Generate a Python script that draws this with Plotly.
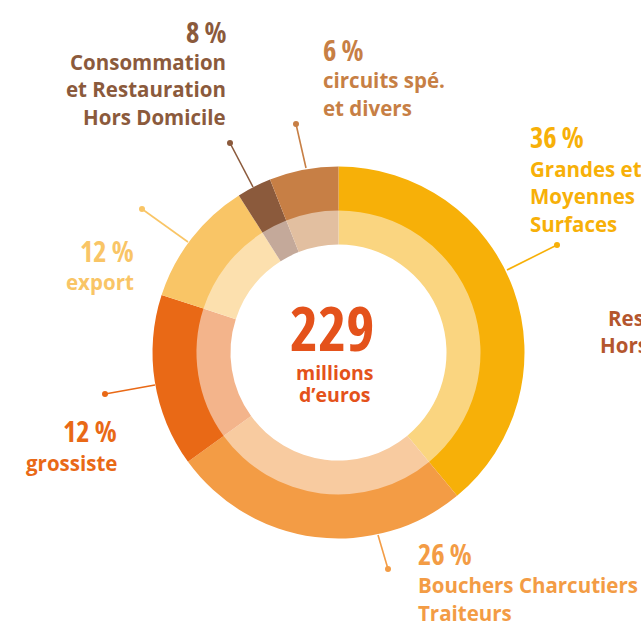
import plotly.graph_objects as go

W, H = 641, 623

# ---- data ----
categories = ["Grandes et Moyennes Surfaces", "Bouchers Charcutiers Traiteurs",
              "grossiste", "export",
              "Consommation et Restauration Hors Domicile", "circuits spé. et divers"]
slice_values = [39, 26, 15, 11, 3, 6]          # slice sizes as drawn
pct_labels = ["36 %", "26 %", "12 %", "12 %", "8 %", "6 %"]
label_lines = [["Grandes et", "Moyennes", "Surfaces"],
               ["Bouchers Charcutiers", "Traiteurs"],
               ["grossiste"],
               ["export"],
               ["Consommation", "et Restauration", "Hors Domicile"],
               ["circuits spé.", "et divers"]]
total_value = "229"
total_unit = ["millions", "d’euros"]
edge_label = ["Restauration", "Hors Domicile"]

outer_colors = ["#F7B008", "#F39C45", "#E96916", "#F9C566", "#8B5A3C", "#C77F45"]
inner_colors = ["#FAD580", "#F8CBA0", "#F3B48B", "#FCE0AE", "#C4A99A", "#E2BFA0"]

# ---- geometry (pixels) ----
CX, CY = 338.5, 352.5
R_OUT, R_MID, R_IN = 186, 142, 108


def px(x):
    return x / W


def py(y):
    return 1 - y / H


def dom(r):
    return dict(x=[px(CX - r), px(CX + r)], y=[py(CY + r), py(CY - r)])


fig = go.Figure()
fig.add_trace(go.Pie(values=slice_values, labels=categories, sort=False,
                     direction="clockwise", rotation=0, hole=R_IN / (R_MID + 1),
                     marker=dict(colors=inner_colors, line=dict(width=0)),
                     textinfo="none", domain=dom(R_MID + 1), showlegend=False,
                     hoverinfo="label"))
fig.add_trace(go.Pie(values=slice_values, labels=categories, sort=False,
                     direction="clockwise", rotation=0, hole=R_MID / R_OUT,
                     marker=dict(colors=outer_colors, line=dict(width=0)),
                     textinfo="none", domain=dom(R_OUT), showlegend=False,
                     hoverinfo="label"))

# white separators at slice boundaries
tot = sum(slice_values)
acc = 0
th, rr = [], []
for v in [0] + slice_values[:-1]:
    acc += v
    ang = 360 * acc / tot
    th += [ang, ang, None]
    rr += [R_IN, R_OUT, None]
fig.add_trace(go.Scatterpolar(theta=th, r=rr, mode="lines",
                              line=dict(color="white", width=1.6),
                              hoverinfo="skip", showlegend=False))
fig.update_layout(polar=dict(domain=dom(R_OUT), bgcolor="rgba(0,0,0,0)",
                             radialaxis=dict(visible=False, range=[0, R_OUT]),
                             angularaxis=dict(visible=False, rotation=90,
                                              direction="clockwise")))

# ---- labels ----
FONT = "Open Sans, sans-serif"
ann = []


def cond(s):
    return "<span style='font-stretch:condensed'>%s</span>" % s


def text(s, x, y, color, size, anchor, weight="bold"):
    ann.append(dict(text=s, x=px(x), y=py(y), xref="paper", yref="paper",
                    xanchor=anchor, yanchor="middle", showarrow=False, borderpad=0,
                    font=dict(color=color, size=size, family=FONT, weight=weight)))


# label placements: (pct x, pct y, anchor, first text line y)
placements = [(529, 137.5, "left", 169),
              (417, 554, "left", 585),
              (118, 431, "right", 463),
              (135, 251, "right", 282),
              (227, 31.5, "right", 62),
              (322, 49.5, "left", 80)]
LINE_H = 27.5
for i, (x, y, anc, ly) in enumerate(placements):
    text(cond(pct_labels[i]), x, y, outer_colors[i], 28.5, anc)
    for k, ln in enumerate(label_lines[i]):
        text(ln, x, ly + k * LINE_H, outer_colors[i], 20.5, anc)

# partially visible label at right edge
text(edge_label[0], 607, 318, "#B4562E", 20.5, "left")
text(edge_label[1], 599, 345, "#B4562E", 20.5, "left")

# centre: total and unit
text(cond(total_value), 332, 328, "#E4521B", 60, "center")
text(total_unit[0], 335, 372.5, "#E4521B", 19.5, "center")
text(total_unit[1], 335, 394.5, "#E4521B", 19.5, "center")

# leader lines with dots: (start x, start y, dot x, dot y)
leaders = [(507, 270, 557, 245), (378, 535, 388, 569), (155, 385, 105, 394),
           (188, 242, 142, 209), (253, 187, 230, 143), (306, 168, 296, 124)]
shapes = []
for i, (x0, y0, x1, y1) in enumerate(leaders):
    c = outer_colors[i]
    shapes.append(dict(type="line", xref="paper", yref="paper",
                       x0=px(x0), y0=py(y0), x1=px(x1), y1=py(y1),
                       line=dict(color=c, width=1.6)))
    rd = 3
    shapes.append(dict(type="circle", xref="paper", yref="paper",
                       x0=px(x1 - rd), x1=px(x1 + rd), y0=py(y1 + rd), y1=py(y1 - rd),
                       fillcolor=c, line=dict(width=0)))

fig.update_layout(width=W, height=H, margin=dict(l=0, r=0, t=0, b=0),
                  paper_bgcolor="white", plot_bgcolor="white",
                  annotations=ann, shapes=shapes, showlegend=False)

fig.write_html("out.html", config={"displayModeBar": False},
               post_script="document.body.style.margin='0';")
